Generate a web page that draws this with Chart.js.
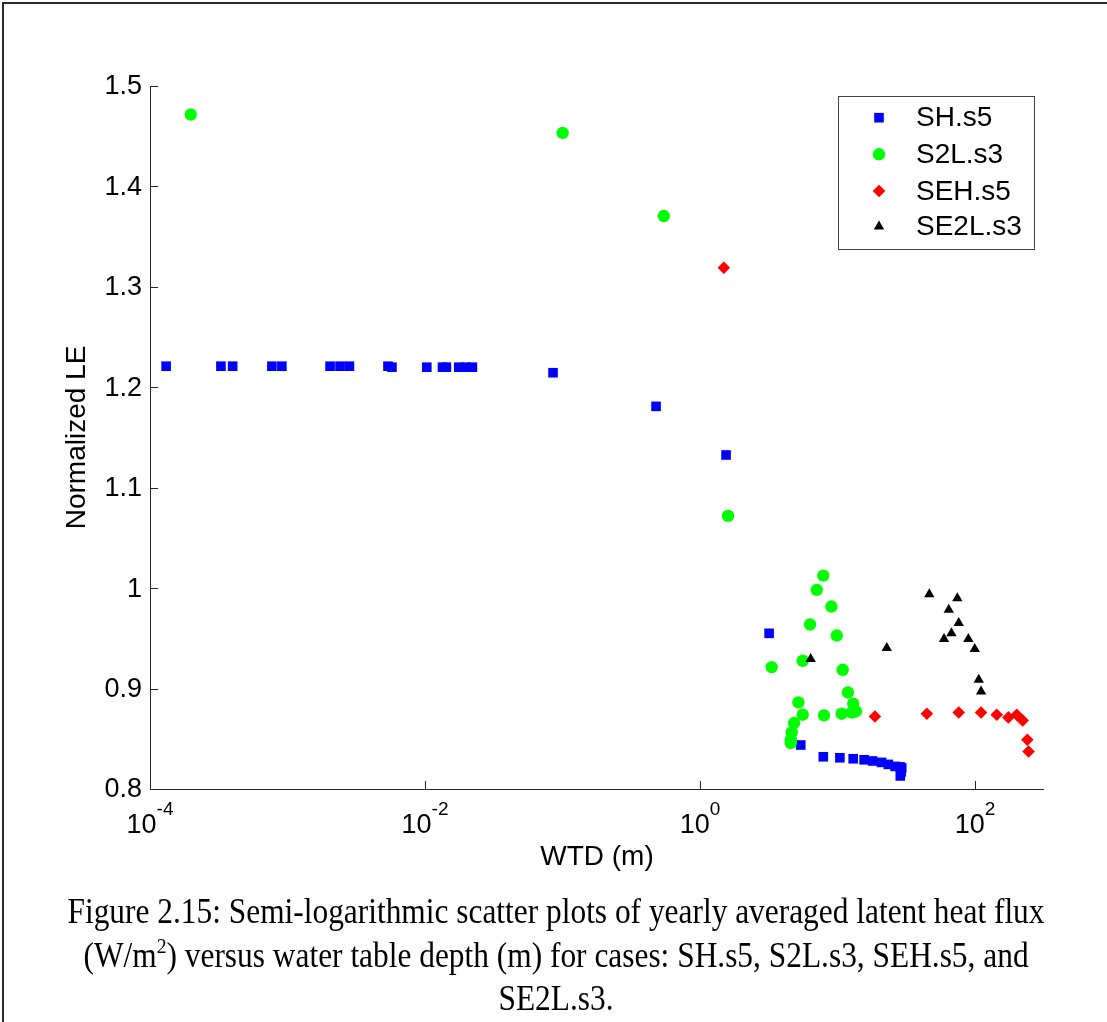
<!DOCTYPE html>
<html>
<head>
<meta charset="utf-8">
<title>Figure 2.15</title>
<script src="https://cdn.jsdelivr.net/npm/chart.js@4.4.0/dist/chart.umd.min.js"></script>
<style>
  html, body { margin: 0; padding: 0; background: #fff; }
  canvas { display: block; }
</style>
</head>
<body>
<canvas id="chart" width="1107" height="1022"></canvas>
<script>
// Valeurs (WTD en m, LE normalisé)
const seriesNames = ['SH.s5', 'S2L.s3', 'SEH.s5', 'SE2L.s3'];

const shWtd = [1.31e-4, 3.28e-4, 3.99e-4, 7.7e-4, 9.1e-4, 2.04e-3, 2.41e-3, 2.82e-3, 5.38e-3, 5.75e-3,
    0.0103, 0.0134, 0.0143, 0.0176, 0.0198, 0.0221, 0.0853, 0.479, 1.546, 3.18,
    5.40, 7.88, 10.4, 13.0, 15.6, 18.0, 20.9, 23.4, 26.2, 28.5, 29.3, 29.0, 28.6];
const shLe = [1.221, 1.221, 1.221, 1.221, 1.221, 1.221, 1.221, 1.221, 1.221, 1.220,
    1.220, 1.220, 1.220, 1.220, 1.220, 1.220, 1.2145, 1.181, 1.1326, 0.955,
    0.8438, 0.8321, 0.8311, 0.8301, 0.8291, 0.8279, 0.8265, 0.8245, 0.8225, 0.822, 0.821, 0.817, 0.813];

const s2lWtd = [1.98e-4, 0.1002, 0.545, 1.60, 7.88, 7.06, 9.02, 6.31, 9.87, 3.32,
    5.58, 10.9, 11.9, 13.0, 13.6, 12.7, 10.7, 7.97, 5.58, 5.19, 4.83, 4.64, 4.57, 4.57];
const s2lLe = [1.4716, 1.4533, 1.3705, 1.072, 1.0125, 0.9983, 0.9817, 0.9638, 0.9528, 0.9214,
    0.9277, 0.9187, 0.8961, 0.8849, 0.8772, 0.876, 0.875, 0.8733, 0.874, 0.8862, 0.8657, 0.8563, 0.849, 0.8458];

const sehWtd = [1.49, 18.7, 44.6, 76.1, 110.6, 143.8, 174.7, 201, 222, 240, 245];
const sehLe = [1.319, 0.8722, 0.875, 0.8762, 0.8762, 0.874, 0.8713, 0.874, 0.8683, 0.849, 0.8374];

const se2lWtd = [6.38, 22.8, 46.5, 74.3, 64.4, 76.1, 67.3, 59.5, 89.4, 99.5, 106.4, 110.6];
const se2lLe = [0.9294, 0.9403, 0.994, 0.990, 0.9784, 0.9652, 0.9552, 0.9493, 0.9493, 0.9393, 0.9088, 0.8971];

const yTicks = [0.8, 0.9, 1.0, 1.1, 1.2, 1.3, 1.4, 1.5];
const yTickLabels = ['0.8', '0.9', '1', '1.1', '1.2', '1.3', '1.4', '1.5'];
const xTicks = [1e-4, 1e-2, 1, 100];
const xTickExponents = ['-4', '-2', '0', '2'];

const xTitle = 'WTD (m)';
const yTitle = 'Normalized LE';
const captionLine1 = 'Figure 2.15: Semi-logarithmic scatter plots of yearly averaged latent heat flux';
const captionLine2 = ['(W/m', '2', ') versus water table depth (m) for cases: SH.s5, S2L.s3, SEH.s5, and'];
const captionLine3 = 'SE2L.s3.';

const SANS = '"Liberation Sans", Arial, sans-serif';
const SERIF = '"Liberation Serif", "Times New Roman", serif';

function toPoints(xs, ys) {
    return xs.map((x, i) => ({ x: x, y: ys[i] }));
}

// Styles des marqueurs (façon MATLAB)
const markers = [
    { color: '#0000ff', style: 'rect', radius: 6.8 },
    { color: '#00ff00', style: 'circle', radius: 6.2 },
    { color: '#ff0000', style: 'rectRot', radius: 6.3 },
    { color: '#000000', style: 'triangle', radius: 6 }
];

const seriesData = [
    toPoints(shWtd, shLe),
    toPoints(s2lWtd, s2lLe),
    toPoints(sehWtd, sehLe),
    toPoints(se2lWtd, se2lLe)
];

const datasets = seriesNames.map((name, i) => ({
    label: name,
    data: seriesData[i],
    pointStyle: markers[i].style,
    pointRadius: markers[i].radius,
    pointHoverRadius: markers[i].radius,
    pointBackgroundColor: markers[i].color,
    pointBorderColor: markers[i].color,
    pointBorderWidth: 0,
    showLine: false,
    order: 3 - i   // la dernière série dessinée au-dessus
}));

/**
 * Cadre, graduations, légende et légende de figure
 */
const figurePlugin = {
    id: 'figure',
    beforeDraw: function(chart) {
        const ctx = chart.ctx;
        ctx.save();
        ctx.fillStyle = '#ffffff';
        ctx.fillRect(0, 0, chart.width, chart.height);
        // cadre de la page
        ctx.strokeStyle = '#2a2a2a';
        ctx.lineWidth = 2;
        ctx.beginPath();
        ctx.moveTo(3, chart.height);
        ctx.lineTo(3, 3);
        ctx.lineTo(chart.width, 3);
        ctx.stroke();
        ctx.restore();
    },
    afterDraw: function(chart) {
        const ctx = chart.ctx;
        const xs = chart.scales.x;
        const ys = chart.scales.y;
        const area = chart.chartArea;
        ctx.save();

        // graduations vers l'intérieur
        ctx.strokeStyle = '#262626';
        ctx.lineWidth = 1;
        ctx.beginPath();
        yTicks.forEach(v => {
            const py = Math.round(ys.getPixelForValue(v)) + 0.5;
            ctx.moveTo(area.left, py);
            ctx.lineTo(area.left + 8, py);
        });
        xTicks.forEach(v => {
            const px = Math.round(xs.getPixelForValue(v)) + 0.5;
            ctx.moveTo(px, area.bottom);
            ctx.lineTo(px, area.bottom - 8);
        });
        ctx.stroke();

        // étiquettes de l'axe y
        ctx.fillStyle = '#000';
        ctx.font = '27px ' + SANS;
        ctx.textAlign = 'right';
        ctx.textBaseline = 'middle';
        yTicks.forEach((v, i) => {
            ctx.fillText(yTickLabels[i], area.left - 8, ys.getPixelForValue(v) + 1);
        });

        // étiquettes de l'axe x : 10 avec exposant
        ctx.textAlign = 'left';
        ctx.textBaseline = 'alphabetic';
        xTicks.forEach((v, i) => {
            const px = xs.getPixelForValue(v);
            ctx.font = '27px ' + SANS;
            const wb = ctx.measureText('10').width;
            ctx.font = '19px ' + SANS;
            const we = ctx.measureText(xTickExponents[i]).width;
            const start = px - (wb + we) / 2;
            ctx.font = '27px ' + SANS;
            ctx.fillText('10', start, area.bottom + 44);
            ctx.font = '19px ' + SANS;
            ctx.fillText(xTickExponents[i], start + wb, area.bottom + 26);
        });

        // titres des axes
        ctx.font = '28px ' + SANS;
        ctx.textAlign = 'center';
        ctx.fillText(xTitle, (area.left + area.right) / 2 + 0.5, area.bottom + 76);
        ctx.save();
        ctx.translate(85, (area.top + area.bottom) / 2);
        ctx.rotate(-Math.PI / 2);
        ctx.fillText(yTitle, 0, 0);
        ctx.restore();

        // légende
        const box = { x: 838.5, y: 96.5, w: 196, h: 153 };
        ctx.fillStyle = '#fff';
        ctx.fillRect(box.x, box.y, box.w, box.h);
        ctx.strokeStyle = '#444';
        ctx.lineWidth = 1;
        ctx.strokeRect(box.x, box.y, box.w, box.h);
        const rows = [117.7, 154.3, 191, 226.5];
        seriesNames.forEach((name, i) => {
            ctx.fillStyle = markers[i].color;
            ctx.strokeStyle = markers[i].color;
            Chart.helpers.drawPoint(ctx, {
                pointStyle: markers[i].style,
                radius: markers[i].radius,
                rotation: 0,
                borderWidth: 0
            }, 879, rows[i]);
            ctx.fillStyle = '#000';
            ctx.font = '28px ' + SANS;
            ctx.textAlign = 'left';
            ctx.textBaseline = 'middle';
            ctx.fillText(name, 916, rows[i] + 1);
        });

        // légende de la figure (Times, un peu étroite)
        ctx.fillStyle = '#000';
        ctx.textBaseline = 'alphabetic';
        ctx.textAlign = 'left';
        ctx.font = '35px ' + SERIF;
        const cx = 556;
        const sx = 977 / ctx.measureText(captionLine1).width;
        const drawScaled = (text, left, base, font) => {
            ctx.save();
            ctx.font = font;
            ctx.translate(left, base);
            ctx.scale(sx, 1);
            ctx.fillText(text, 0, 0);
            ctx.restore();
        };
        const mainFont = '35px ' + SERIF;
        const supFont = '22px ' + SERIF;
        drawScaled(captionLine1, cx - 977 / 2, 923, mainFont);

        ctx.font = mainFont;
        const w0 = ctx.measureText(captionLine2[0]).width * sx;
        const w2 = ctx.measureText(captionLine2[2]).width * sx;
        ctx.font = supFont;
        const w1 = ctx.measureText(captionLine2[1]).width * sx;
        let lx = cx - (w0 + w1 + w2) / 2;
        drawScaled(captionLine2[0], lx, 967, mainFont);
        drawScaled(captionLine2[1], lx + w0, 953, supFont);
        drawScaled(captionLine2[2], lx + w0 + w1, 967, mainFont);

        ctx.font = mainFont;
        const w3 = ctx.measureText(captionLine3).width * sx;
        drawScaled(captionLine3, cx - w3 / 2, 1010, mainFont);

        ctx.restore();
    }
};

const chart = new Chart(document.getElementById('chart').getContext('2d'), {
    type: 'scatter',
    data: { datasets: datasets },
    options: {
        responsive: false,
        animation: false,
        layout: {
            padding: { left: 150, top: 86, right: 64, bottom: 233 }
        },
        plugins: {
            legend: { display: false },
            tooltip: { enabled: false }
        },
        scales: {
            x: {
                type: 'logarithmic',
                min: 1e-4,
                max: 312,
                grid: { display: false, drawTicks: false },
                border: { display: true, color: '#262626', width: 1 },
                ticks: { display: false }
            },
            y: {
                type: 'linear',
                min: 0.8,
                max: 1.5,
                grid: { display: false, drawTicks: false },
                border: { display: true, color: '#262626', width: 1 },
                ticks: { display: false }
            }
        }
    },
    plugins: [figurePlugin]
});
</script>
</body>
</html>
